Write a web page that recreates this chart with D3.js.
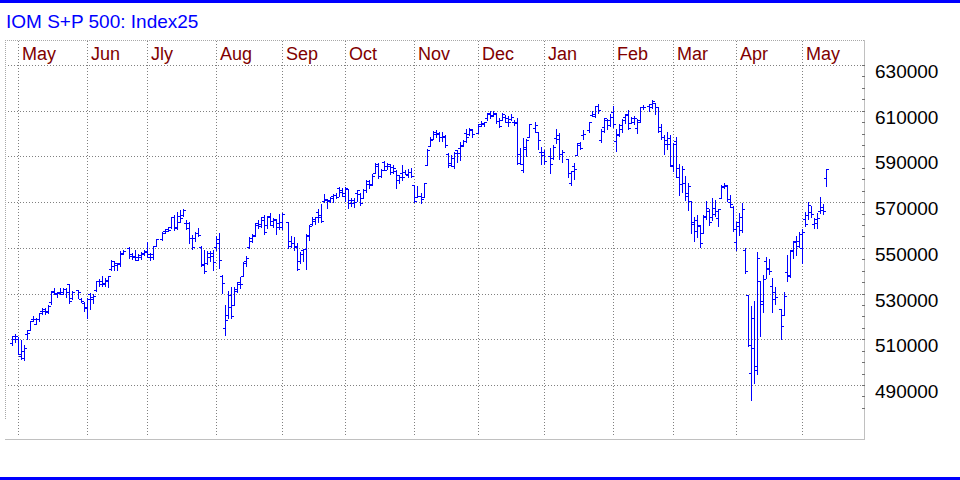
<!DOCTYPE html>
<html><head><meta charset="utf-8">
<script src="https://cdn.jsdelivr.net/npm/d3@7"></script>
<style>html,body{margin:0;padding:0;background:#fff;}svg{display:block;}</style>
</head><body>
<svg id="c" width="960" height="480"></svg>
<script>
// Weekday slots from Fri 26 Apr 2024 to Mon 12 May 2025 (null = market holiday)
const open = [
508400,511400,510300,502900,504900,512200,
514200,518700,516800,518900,522500,
523400,522200,526300,531000,530300,
530500,529800,531900,534000,528100,
null,531500,527800,525900,524300,
529700,527800,531400,535700,534300,
534100,535300,540900,544100,542400,
543100,547600,null,549900,546600,
545900,546100,546000,547300,548800,
547100,546100,550700,null,553700,
557200,558400,559100,563500,559000,
563800,564400,561000,560800,554300,
554500,556500,550500,542800,543400,
547700,547900,550500,553700,537600,
515100,520600,529400,525200,531200,
535100,537600,544200,550200,553100,
555700,560200,560300,563700,560200,
563900,560200,562400,560700,561200,
null,561200,550700,552100,550700,
544200,549000,549600,555700,560300,
561600,565500,564200,570300,570900,
571100,572700,573300,576200,575500,
572700,575700,569800,569800,573800,
573700,571900,575100,577800,577500,
582900,586600,581600,587500,585900,
585700,583200,583500,581700,582600,
583300,582000,583200,577500,572300,
572500,572200,586400,594700,597600,
600900,600000,598600,598900,591200,
586300,586000,592700,593500,594400,
600100,600000,601500,null,600300,
604000,604200,606900,608900,608100,
608400,605700,606000,607400,606800,
606300,605200,604800,591200,584200,
594000,598400,null,602500,600600,
592000,592000,null,590300,589100,
598200,599300,591000,null,589000,
578500,585900,590500,596000,599300,
null,601400,608100,607600,612200,
597000,602700,605800,606000,609600,
596900,599800,602000,607200,608300,
604700,605000,602500,606100,611600,
null,612100,611800,613400,611500,
602700,598300,597000,598100,585600,
596800,581100,578100,578500,572600,
570500,560300,562400,559400,556300,
563500,566200,563300,564600,563000,
571900,577200,577200,570100,568000,
552700,559700,558000,549200,529200,
495300,519300,496500,535400,525600,
544100,541100,533500,530500,null,
523200,520700,539500,538100,548900,
552900,550800,549900,562500,564500,
565500,560500,562600,566300,567900,
580700];
const high = [
511400,512300,511000,509600,507300,513900,
518100,520000,519100,521500,523900,
523800,525000,531100,532500,530500,
532500,532500,532400,534200,531100,
null,531500,528200,526100,528000,
530200,529800,535400,536200,537500,
536600,537500,544700,544100,543200,
548800,549000,null,550500,547800,
549000,547200,548300,549000,552400,
547900,551000,553900,null,557100,
558300,559000,563500,564200,565500,
566600,566900,562200,561500,555700,
557000,558600,550900,549100,548800,
548700,548900,555100,556700,538300,
525000,531200,533000,532800,535100,
537100,543700,546300,554600,556200,
560900,562000,563300,564300,564100,
565100,563100,562800,564600,565100,
null,561200,555100,554700,552300,
548400,549700,556100,560000,563600,
563700,567100,569000,573400,571500,
572200,573600,574100,576700,576300,
576500,575800,572000,571800,575300,
573900,575700,579600,579500,582300,
587100,587000,584700,587800,587200,
586700,586300,584200,581800,586200,
584200,584700,585000,577600,577200,
574100,578300,593300,598300,601200,
601700,600900,600800,599300,591500,
590800,592000,592900,596400,597200,
602000,602500,602000,null,604400,
605300,605200,608900,609900,609900,
608800,606600,609200,608000,607900,
608500,605800,607000,593500,598200,
597800,604100,null,604900,600700,
594100,592900,null,593500,595000,
602200,600100,592700,null,589000,
583700,587100,596000,596500,601400,
null,605100,610000,611900,612800,
601800,607000,606200,608600,612100,
602200,604200,606200,608400,610100,
607300,607600,606400,611600,612700,
null,613000,614700,613400,611500,
604300,599300,600900,599300,595900,
598600,586500,586000,581300,578300,
570500,563600,564200,559800,564500,
570400,567000,571600,571100,567200,
577500,578300,577500,573200,568500,
561500,565100,569600,550000,529200,
524700,526800,548100,535500,538100,
545900,545000,536700,532800,null,
523300,530900,546900,548900,552800,
555400,557100,558100,565900,570000,
568400,563000,565400,572100,569200,
584700];
const low = [
507300,508800,503500,501300,501100,510100,
514200,517800,516500,518100,520900,
521200,521700,525600,529600,528400,
529900,529700,528600,525700,527800,
null,528000,526200,522200,519100,
523400,525700,531000,533500,533100,
533100,532700,540400,540400,540300,
542000,547100,null,545500,545200,
544700,544600,545100,546700,546000,
544600,545200,550700,null,553500,
556300,557400,558600,557600,558300,
561400,563900,558400,552200,549700,
552900,555000,542000,539000,543100,
544400,540100,549000,541000,530200,
511900,519300,519500,525000,530700,
532500,537600,542100,550100,552500,
555000,558500,559100,556000,558500,
560200,559300,556100,558300,558100,
null,550100,550300,549200,540300,
543400,544100,540600,553500,560100,
560400,561500,561500,569900,567400,
570100,569900,571600,572700,572700,
570300,567400,568300,567700,570400,
568700,571600,574500,576400,577500,
582900,580400,580800,584000,584600,
582400,582600,576200,578400,579900,
582300,581100,581100,570200,572300,
569600,572200,586400,594600,597600,
598600,596900,596600,594200,585300,
585800,585100,587600,588500,594400,
596300,599300,598400,null,600300,
603500,603300,606100,607000,607900,
604800,602900,605900,605000,603500,
605900,603600,586700,586600,583200,
590200,598300,null,600800,593200,
586900,586800,null,582900,588900,
596000,589000,587400,null,580900,
577300,580200,590500,593100,597800,
null,600600,607600,607400,608800,
596200,600700,602000,603500,603000,
592300,599000,600700,604600,601900,
604500,604300,600300,605200,610800,
null,609900,611100,608500,600900,
597700,590900,593300,585800,583700,
581000,573200,574300,571100,566700,
556400,552800,554600,550500,556300,
562600,559800,562100,564100,559700,
571800,576000,570400,567900,557200,
548900,555800,557100,539100,506900,
483500,491000,495000,511500,522000,
536900,538600,522000,525500,null,
510100,520700,535700,537100,545600,
546800,550500,543400,559700,562800,
563300,558900,558700,565100,564600,
577200];
const close = [
510000,511600,503600,501800,506400,512800,
518100,518800,518800,521400,522300,
522100,524700,530800,529700,530300,
530800,532100,530700,526800,530500,
null,530600,526700,523500,527800,
528300,529100,535400,535300,534700,
536100,537500,542100,543400,543200,
547300,548700,null,547300,546500,
544800,546900,547800,548300,546000,
547500,550900,553700,null,556700,
557300,557700,563400,558500,561500,
563100,566700,558800,554500,550500,
556400,555600,542700,539900,545900,
546400,543600,552200,544700,534700,
518600,524000,520000,531900,534400,
534400,543400,545500,554300,555400,
560800,559700,562100,557100,563500,
561700,562600,559200,559200,564800,
null,552900,552000,550300,540800,
547100,549600,555400,559600,562600,
563300,563500,561800,571400,570300,
571900,573300,572200,574500,573800,
576200,570900,571000,570000,575100,
569600,575100,579200,578000,581500,
586000,581500,584200,584100,586500,
585400,585100,579700,581000,580800,
582400,583300,581400,570500,572900,
571300,578300,592900,597300,599600,
600100,598400,598500,594900,587100,
589400,591700,591700,594900,596900,
598700,602200,599900,null,603200,
604700,605000,608600,607500,609000,
605300,603500,608400,605100,605100,
607400,605100,587200,586700,593100,
597400,604000,null,603800,597100,
590700,588200,null,586900,594200,
597500,590900,591800,null,582700,
583600,584300,595000,593700,599700,
null,604900,608600,611900,610100,
601200,606800,603900,607100,604100,
599500,603800,606100,608400,602600,
606600,606900,605200,611500,611500,
null,613000,614400,611800,601300,
598300,595500,595600,586200,595500,
585000,577800,584300,573900,577000,
561500,557200,559900,552200,563900,
567500,561500,567500,566300,566800,
576800,577700,571200,569300,558100,
561200,563300,567100,539700,507400,
506200,498300,545700,526800,536300,
540600,539700,527600,528300,null,
515800,528800,537600,548500,552500,
552900,556100,556900,560400,568700,
565000,560700,563100,566400,566000,
584400];

const monthLabels = ["May","Jun","Jly","Aug","Sep","Oct","Nov","Dec","Jan","Feb","Mar","Apr","May"];
const monthTickIdx = [2,25,45,68,90,111,134,155,177,200,220,241,263];
const yTickValues = [490000,510000,530000,550000,570000,590000,610000,630000];
const yMinorValues = d3.range(480000, 630001, 5000);
const title = "IOM S+P 500: Index25";

const svg = d3.select("#c");
const FONT = "'Liberation Sans', Arial, sans-serif";

const x = d3.scaleLinear().domain([0, open.length - 1]).range([12.3, 825.7]);
const y = d3.scaleLinear().domain([490000, 630000]).range([385, 65]);
const px = v => Math.round(v) + 0.5;

// top & bottom blue bands
svg.append("rect").attr("x",0).attr("y",0).attr("width",960).attr("height",3).attr("fill","#0000ff");
svg.append("rect").attr("x",0).attr("y",477).attr("width",960).attr("height",3).attr("fill","#0000ff");

// title
svg.append("text").attr("x",6).attr("y",28).attr("fill","#0000ff")
  .attr("font-family",FONT).attr("font-size","19px").text(title);

const grid = svg.append("g").attr("shape-rendering","crispEdges");
// frame
grid.append("line").attr("x1",5).attr("x2",865).attr("y1",40.5).attr("y2",40.5)
  .attr("stroke","#a8a8a8").attr("stroke-dasharray","1,1");
grid.append("line").attr("x1",5.5).attr("x2",5.5).attr("y1",40).attr("y2",420)
  .attr("stroke","#a8a8a8").attr("stroke-dasharray","1,1");
grid.append("line").attr("x1",864.5).attr("x2",864.5).attr("y1",40).attr("y2",440)
  .attr("stroke","#c0c0c0");
grid.append("line").attr("x1",5).attr("x2",865).attr("y1",439.5).attr("y2",439.5)
  .attr("stroke","#c0c0c0");

// horizontal grid
grid.selectAll("line.hg").data(yTickValues).join("line").attr("class","hg")
  .attr("x1",8).attr("x2",863).attr("y1",d=>px(y(d))).attr("y2",d=>px(y(d)))
  .attr("stroke","#808080").attr("stroke-dasharray","1,2");
// vertical month grid
grid.selectAll("line.vg").data(monthTickIdx).join("line").attr("class","vg")
  .attr("x1",d=>px(x(d))).attr("x2",d=>px(x(d))).attr("y1",41).attr("y2",437)
  .attr("stroke","#808080").attr("stroke-dasharray","1,2");
// minor ticks on right axis
grid.selectAll("line.mt").data(yMinorValues).join("line").attr("class","mt")
  .attr("x1",862).attr("x2",865).attr("y1",d=>px(y(d))).attr("y2",d=>px(y(d)))
  .attr("stroke","#707070");

// month labels
svg.selectAll("text.ml").data(monthLabels).join("text").attr("class","ml")
  .attr("x",(d,i)=>Math.round(x(monthTickIdx[i]))+4).attr("y",60)
  .attr("fill","#800000").attr("font-family",FONT).attr("font-size","18px").text(d=>d);

// y labels
svg.selectAll("text.yl").data(yTickValues).join("text").attr("class","yl")
  .attr("x",875).attr("y",d=>Math.round(y(d))+13)
  .attr("fill","#000").attr("font-family",FONT).attr("font-size","19px").text(d=>d3.format("d")(d));

// OHLC bars
const idx = d3.range(open.length).filter(i => open[i] != null);
svg.append("g").attr("shape-rendering","crispEdges")
  .selectAll("path").data(idx).join("path")
  .attr("fill","none").attr("stroke","#0000ff").attr("stroke-width",1)
  .attr("d", i => {
    const c = Math.round(x(i));
    const yh = Math.round(y(high[i])), yl = Math.round(y(low[i]));
    const yo = Math.round(y(open[i])) + 0.5, yc = Math.round(y(close[i])) + 0.5;
    return `M${c+0.5},${yh}V${Math.max(yl+1, yh+1)}M${c-2},${yo}H${c}M${c+1},${yc}H${c+3}`;
  });
</script>
</body></html>
